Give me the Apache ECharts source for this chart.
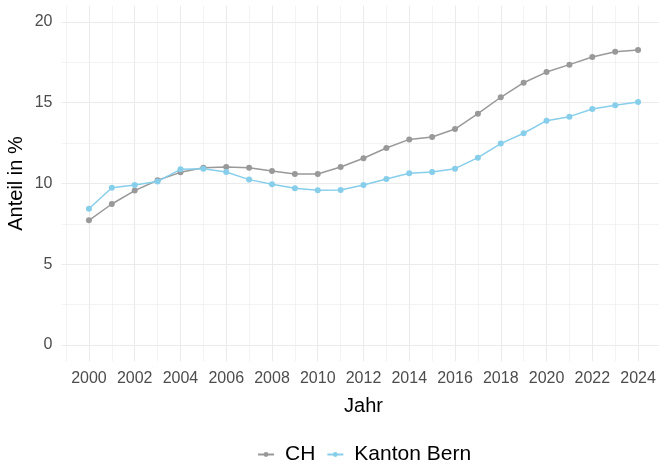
<!DOCTYPE html>
<html>
<head>
<meta charset="utf-8">
<script src="https://cdn.jsdelivr.net/npm/echarts@6/dist/echarts.min.js"></script>
<style>
  html, body { margin: 0; padding: 0; background: #fff; }
  #chart { width: 659px; height: 466px; }
</style>
</head>
<body>
<div id="chart"></div>
<script>
// Jahr
const years = [2000, 2001, 2002, 2003, 2004, 2005, 2006, 2007, 2008, 2009, 2010, 2011, 2012,
  2013, 2014, 2015, 2016, 2017, 2018, 2019, 2020, 2021, 2022, 2023, 2024]

// Anteil in %
const ch = [7.72, 8.73, 9.56, 10.2, 10.69, 10.98, 11.02, 10.98, 10.77, 10.59, 10.59, 11.02, 11.56,
  12.2, 12.73, 12.88, 13.37, 14.32, 15.34, 16.24, 16.9, 17.36, 17.83, 18.16, 18.27]
const bern = [8.44, 9.74, 9.91, 10.13, 10.88, 10.92, 10.71, 10.24, 9.95, 9.7, 9.58, 9.6, 9.91,
  10.28, 10.63, 10.71, 10.92, 11.6, 12.47, 13.11, 13.89, 14.14, 14.61, 14.84, 15.05]

// tick positions
const xMajor = [2000, 2002, 2004, 2006, 2008, 2010, 2012, 2014, 2016, 2018, 2020, 2022, 2024]
const xMinor = [1999, 2001, 2003, 2005, 2007, 2009, 2011, 2013, 2015, 2017, 2019, 2021, 2023, 2025]
const yMajor = [0, 5, 10, 15, 20]
const yMinor = [2.5, 7.5, 12.5, 17.5]

const font = 'Liberation Sans, Arial, sans-serif'
const gridColor = '#EBEBEB'

const pair = (xs, ys) => xs.map((x, i) => [x, ys[i]])

const chart = echarts.init(document.getElementById('chart'), null, { renderer: 'canvas' })

const baseX = {
  type: 'value',
  min: 1998.8,
  max: 2025.2,
  axisLine: { show: false },
}
const baseY = {
  type: 'value',
  min: -1,
  max: 21,
  axisLine: { show: false },
}

chart.setOption({
  animation: false,
  backgroundColor: '#fff',
  textStyle: { fontFamily: font },
  grid: { left: 61.5, right: -6.5, top: 5.85, bottom: 104.85, outerBoundsMode: 'none' },
  legend: {
    left: 252,
    top: 439,
    itemWidth: 16,
    itemHeight: 6,
    itemGap: 11,
    textStyle: { fontSize: 21, color: '#000', fontFamily: font, padding: [0, 0, 0, 6] },
    data: ['CH', 'Kanton Bern'],
  },
  xAxis: [
    {
      ...baseX,
      name: 'Jahr',
      nameLocation: 'middle',
      nameGap: 35,
      nameTextStyle: { fontSize: 20, color: '#000', fontFamily: font },
      axisTick: { show: false, customValues: xMajor },
      axisLabel: {
        customValues: xMajor,
        formatter: v => String(v),
        fontSize: 16,
        color: '#4D4D4D',
        margin: 9,
      },
      splitLine: { show: true, lineStyle: { color: gridColor, width: 1.1 } },
    },
    {
      ...baseX,
      axisTick: { show: false, customValues: xMinor },
      axisLabel: { show: false },
      splitLine: { show: true, lineStyle: { color: gridColor, width: 0.6 } },
    },
  ],
  yAxis: [
    {
      ...baseY,
      name: 'Anteil in %',
      nameLocation: 'middle',
      nameGap: 35,
      nameMoveOverlap: false,
      nameTextStyle: { fontSize: 20, color: '#000', fontFamily: font },
      axisTick: { show: false, customValues: yMajor },
      axisLabel: { customValues: yMajor, fontSize: 16, color: '#4D4D4D', margin: 9 },
      splitLine: { show: true, lineStyle: { color: gridColor, width: 1.1 } },
    },
    {
      ...baseY,
      axisTick: { show: false, customValues: yMinor },
      axisLabel: { show: false },
      splitLine: { show: true, lineStyle: { color: gridColor, width: 0.6 } },
    },
  ],
  series: [
    {
      name: 'CH',
      type: 'line',
      data: pair(years, ch),
      symbol: 'circle',
      symbolSize: 6,
      showSymbol: true,
      color: '#999999',
      lineStyle: { width: 1.5, color: '#999999' },
      itemStyle: { color: '#999999' },
      z: 3,
    },
    {
      name: 'Kanton Bern',
      type: 'line',
      data: pair(years, bern),
      symbol: 'circle',
      symbolSize: 6,
      showSymbol: true,
      color: '#87CEEB',
      lineStyle: { width: 1.5, color: '#87CEEB' },
      itemStyle: { color: '#87CEEB' },
      z: 4,
    },
  ],
})
</script>
</body>
</html>
